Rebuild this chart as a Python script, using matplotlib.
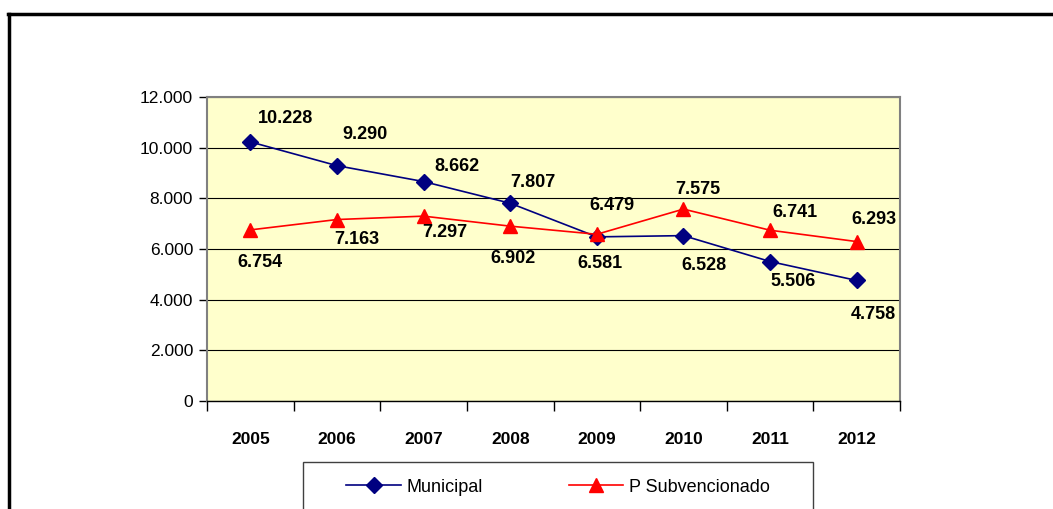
import numpy as np
import matplotlib.pyplot as plt
from matplotlib.lines import Line2D
from matplotlib.patches import Rectangle
from matplotlib.ticker import FuncFormatter, MultipleLocator

plt.rcParams['font.family'] = ['Liberation Sans', 'DejaVu Sans']

years = ['2005', '2006', '2007', '2008', '2009', '2010', '2011', '2012']
municipal = [10228, 9290, 8662, 7807, 6479, 6528, 5506, 4758]
subvencionado = [6754, 7163, 7297, 6902, 6581, 7575, 6741, 6293]

# label offsets in pixels (dx, dy) relative to each point
off_mun = [(35, 23), (28, 31), (33, 15), (23, 21), (15, 31), (20, -30), (23, -20), (17, -34)]
off_sub = [(10, -33), (20, -20), (21, -16), (3, -32), (3, -29), (14, 20), (25, 18), (17, 22)]

W, H = 1053, 509
fig = plt.figure(figsize=(W / 100, H / 100), dpi=100)
ax = fig.add_axes([207 / W, 1 - 401 / H, (900 - 207) / W, (401 - 97) / H])
ax.set_facecolor('#FFFFCC')

x = np.arange(len(years))
ax.plot(x, municipal, color='#000080', lw=1.2, marker='D', ms=8, zorder=3)
ax.plot(x, subvencionado, color='#FF0000', lw=1.2, marker='^', ms=10, zorder=3)

def fmt(v):
    return f'{v:,.0f}'.replace(',', '.')

for xi, v, (dx, dy) in zip(x, municipal, off_mun):
    ax.annotate(fmt(v), (xi, v), xytext=(dx, dy), textcoords='offset pixels',
                ha='center', va='center', fontsize=13, fontweight='bold')
for xi, v, (dx, dy) in zip(x, subvencionado, off_sub):
    ax.annotate(fmt(v), (xi, v), xytext=(dx, dy), textcoords='offset pixels',
                ha='center', va='center', fontsize=13, fontweight='bold')

ax.set_xlim(-0.5, len(years) - 0.5)
ax.set_ylim(0, 12000)
ax.yaxis.set_major_locator(MultipleLocator(2000))
ax.yaxis.set_major_formatter(FuncFormatter(lambda v, p: fmt(v)))
ax.grid(axis='y', color='black', lw=0.8)
ax.set_axisbelow(True)

# category labels centred, tick marks on category boundaries
ax.set_xticks(x)
ax.set_xticklabels(years, fontsize=12.5, fontweight='bold')
ax.tick_params(axis='x', length=0, pad=22)
ax.set_xticks(np.arange(-0.5, len(years)), minor=True)
ax.tick_params(axis='x', which='minor', length=7, width=1, color='black')
ax.tick_params(axis='y', length=6, width=1, labelsize=12.5, pad=4)

for side in ['top', 'right']:
    ax.spines[side].set_color('#808080')
    ax.spines[side].set_linewidth(1.5)
ax.spines['left'].set_color('#808080')
ax.spines['left'].set_linewidth(1.5)
ax.spines['bottom'].set_color('black')
ax.spines['bottom'].set_linewidth(1)

# legend box below the chart
fig.patches.append(Rectangle((303 / W, 1 - 530 / H), (813 - 303) / W, (530 - 462) / H,
                             transform=fig.transFigure, fill=False, ec='#404040', lw=1))
handles = [
    Line2D([], [], color='#000080', lw=1.2, marker='D', ms=8),
    Line2D([], [], color='#FF0000', lw=1.2, marker='^', ms=10),
]
fig.legend(handles, ['Municipal', 'P Subvencionado'], loc='center',
           bbox_to_anchor=(558 / W, 1 - 487 / H), ncol=2, frameon=False,
           fontsize=13, handlelength=3, handletextpad=0.3, columnspacing=4.8)

# outer frame
fig.lines.append(Line2D([9 / W, 9 / W], [0, 1 - 14 / H], transform=fig.transFigure,
                        color='black', lw=2.5))
fig.lines.append(Line2D([8 / W, 1], [1 - 14 / H, 1 - 14 / H], transform=fig.transFigure,
                        color='black', lw=2.5))

fig.savefig('out.png', dpi=100)
